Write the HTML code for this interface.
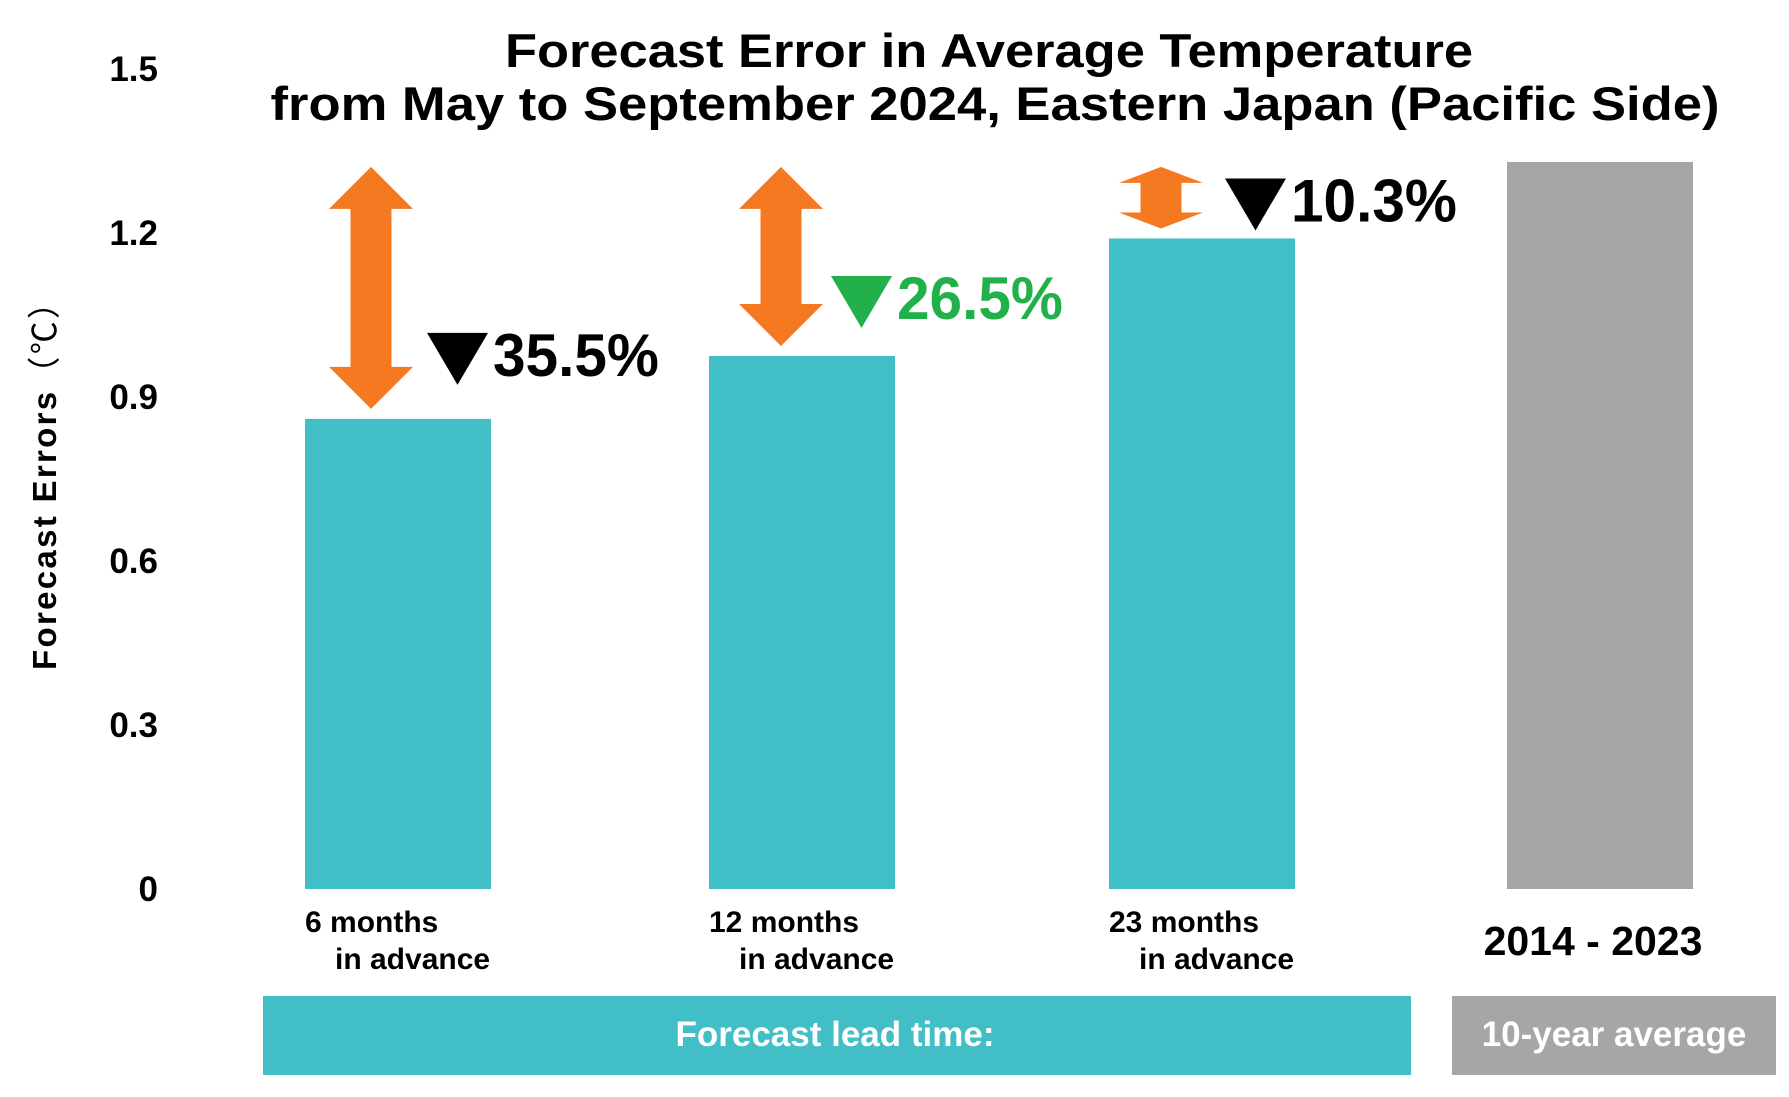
<!DOCTYPE html>
<html><head><meta charset="utf-8"><style>
html,body{margin:0;padding:0;background:#fff;}
svg{display:block;font-family:"Liberation Sans",Arial,sans-serif;font-weight:bold;}
</style></head><body>
<svg id="chart" width="1789" height="1097" viewBox="0 0 1789 1097" xmlns="http://www.w3.org/2000/svg">
<text x="989" y="67" font-size="47" text-anchor="middle" textLength="968" lengthAdjust="spacingAndGlyphs">Forecast Error in Average Temperature</text>
<text x="995" y="120" font-size="47" text-anchor="middle" textLength="1449" lengthAdjust="spacingAndGlyphs">from May to September 2024, Eastern Japan (Pacific Side)</text>
<text transform="translate(56,478) rotate(-90)" font-size="33" text-anchor="middle" textLength="384" lengthAdjust="spacing">Forecast Errors<tspan font-weight="normal">（℃）</tspan></text>
<g id="yticks"></g>
<g id="bars"></g>
<g id="arrows"></g>
<g id="cats"></g>
<text x="1593" y="955" font-size="41" text-anchor="middle">2014 - 2023</text>
<rect x="263" y="996" width="1148" height="79" fill="#41BEC6"/>
<text x="835" y="1046" font-size="35" fill="#fff" text-anchor="middle">Forecast lead time:</text>
<rect x="1452" y="996" width="324" height="79" fill="#A6A6A5"/>
<text x="1614" y="1046" font-size="35" fill="#fff" text-anchor="middle">10-year average</text>
</svg>
<script>
const tickValues=[0,0.3,0.6,0.9,1.2,1.5];
const tickLabels=["0","0.3","0.6","0.9","1.2","1.5"];
const categories=["6 months","12 months","23 months","2014 - 2023"];
const values=[0.86,0.975,1.19,1.33];
const reductionLabels=["35.5%","26.5%","10.3%"];
const reductionColors=["#000","#22B04B","#000"];
const NS="http://www.w3.org/2000/svg";
function y(v){return 889-v*(820/1.5);}
const barX=[305,709,1109,1507], barW=186;
const arrowOff=[66,72,52], triOff=[122,122,116], triGap=[34,28,8];
function mk(tag,attrs,parent){const e=document.createElementNS(NS,tag);for(const k in attrs)e.setAttribute(k,attrs[k]);parent.appendChild(e);return e;}
const yt=document.getElementById('yticks');
tickValues.forEach((v,i)=>{const t=mk('text',{x:158,y:y(v)+12,'font-size':35,'text-anchor':'end'},yt);


t.textContent=tickLabels[i];});
const bg=document.getElementById('bars');
values.forEach((v,i)=>{const r=mk('rect',{x:barX[i],y:y(v),width:barW,height:y(0)-y(v),fill:i==3?'#A6A6A5':'#41BEC6'},bg);

});
const cg=document.getElementById('cats');
for(let i=0;i<3;i++){
const t1=mk('text',{x:barX[i],y:932,'font-size':30},cg);


t1.textContent=categories[i];
const t2=mk('text',{x:barX[i]+30,y:969,'font-size':30},cg);


t2.textContent='in advance';}
const ag=document.getElementById('arrows');
const avg=values[3];
for(let i=0;i<3;i++){
const cx=barX[i]+arrowOff[i], top=y(avg)+5, bot=y(values[i])-10, len=bot-top;
const hh=Math.min(42,len*0.26), hw=42, sw=20.5;
const d=`M${cx} ${top} L${cx+hw} ${top+hh} L${cx+sw} ${top+hh} L${cx+sw} ${bot-hh} L${cx+hw} ${bot-hh} L${cx} ${bot} L${cx-hw} ${bot-hh} L${cx-sw} ${bot-hh} L${cx-sw} ${top+hh} L${cx-hw} ${top+hh} Z`;
const p=mk('path',{d:d,fill:'#F47920'},ag);


const ty=y(values[i])-triGap[i]-52, tx=barX[i]+triOff[i];
const tri=mk('path',{d:`M${tx} ${ty} L${tx+61} ${ty} L${tx+30.5} ${ty+52} Z`,fill:reductionColors[i]},ag);


const t=mk('text',{x:tx+66,y:ty+43,'font-size':60,fill:reductionColors[i],textLength:166,lengthAdjust:'spacingAndGlyphs'},ag);


t.textContent=reductionLabels[i];}
</script>
</body></html>
